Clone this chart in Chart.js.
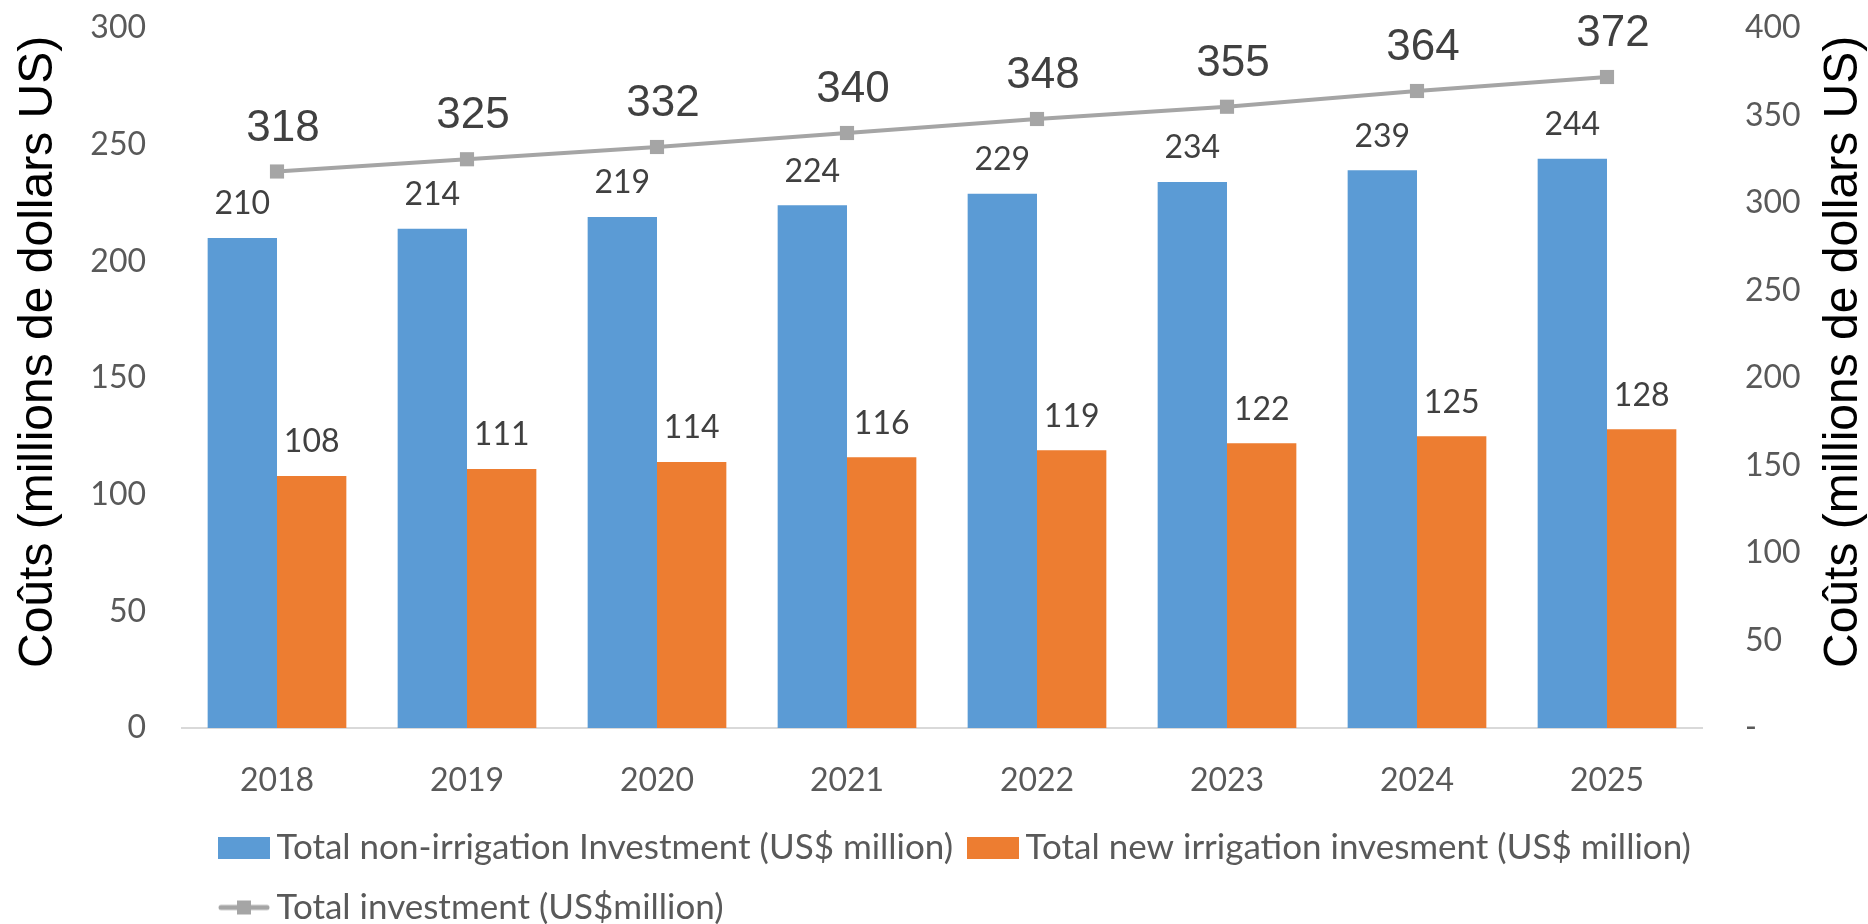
<!DOCTYPE html>
<html>
<head>
<meta charset="utf-8">
<script src="https://cdn.jsdelivr.net/npm/chart.js@4.4.1/dist/chart.umd.min.js"></script>
<style>
  html, body { margin: 0; padding: 0; background: #fff; }
</style>
</head>
<body>
<canvas id="chart" width="1868" height="924"></canvas>
<script>
// Chart data
const years = ['2018', '2019', '2020', '2021', '2022', '2023', '2024', '2025'];
const nonIrrigation = [210, 214, 219, 224, 229, 234, 239, 244];
const newIrrigation = [108, 111, 114, 116, 119, 122, 125, 128];
const totalInvestment = [318, 325, 332, 340, 348, 355, 364, 372];

const seriesNames = [
    'Total non-irrigation Investment (US$ million)',
    'Total new irrigation invesment (US$ million)',
    'Total investment (US$million)'
];
const yTitle = 'Coûts (millions de dollars US)';

const blue = '#5b9bd5';
const orange = '#ed7d31';
const gray = '#a5a5a5';
const tickColor = '#595959';
const labelColor = '#404040';

// Legend icons (box / line with square marker)
function makeIcon(draw) {
    const c = document.createElement('canvas');
    c.width = 52;
    c.height = 22;
    draw(c.getContext('2d'));
    return c;
}
const legendIcons = [
    makeIcon(g => { g.fillStyle = blue; g.fillRect(0, 0, 52, 22); }),
    makeIcon(g => { g.fillStyle = orange; g.fillRect(0, 0, 52, 22); }),
    makeIcon(g => {
        g.strokeStyle = gray;
        g.lineWidth = 5;
        g.lineCap = 'round';
        g.beginPath();
        g.moveTo(3, 11);
        g.lineTo(49, 11);
        g.stroke();
        g.fillStyle = gray;
        g.fillRect(19, 4, 14, 14);
    })
];

// Value labels above bars and line points
const valueLabels = {
    id: 'valueLabels',
    afterDatasetsDraw(chart) {
        const ctx = chart.ctx;
        chart.data.datasets.forEach((ds, i) => {
            const meta = chart.getDatasetMeta(i);
            const isLine = ds.type === 'line';
            ctx.save();
            ctx.font = isLine ? '44px "Liberation Sans"' : '32px Lato';
            ctx.fillStyle = labelColor;
            ctx.textAlign = 'center';
            ctx.textBaseline = 'middle';
            meta.data.forEach((el, j) => {
                const dx = isLine ? 6 : 0;
                const dy = isLine ? 43 : 34;
                ctx.fillText(String(ds.data[j]), el.x + dx, el.y - dy);
            });
            ctx.restore();
        });
    }
};

// Both axis titles read bottom-to-top
const axisTitles = {
    id: 'axisTitles',
    afterDraw(chart) {
        const ctx = chart.ctx;
        ctx.save();
        ctx.font = '48px "Liberation Sans"';
        ctx.fillStyle = '#000';
        ctx.textAlign = 'left';
        ctx.textBaseline = 'alphabetic';
        [52, 1857].forEach(x => {
            ctx.save();
            ctx.translate(x, 668);
            ctx.rotate(-Math.PI / 2);
            ctx.fillText(yTitle, 0, 0);
            ctx.restore();
        });
        ctx.restore();
    }
};

// Put the legend rows where the reference has them
const legendPlace = {
    id: 'legendPlace',
    afterLayout(chart) {
        chart.legend.left = 204;
        chart.legend.top = 805;
    }
};

const tickFont = { family: 'Lato', size: 32 };

// fixed axis widths; tick padding should not push the plot top down
function fixWidth(w) {
    return scale => {
        scale.width = w;
        scale.paddingTop = 0;
        scale.paddingBottom = 0;
    };
}

const ctx = document.getElementById('chart').getContext('2d');
new Chart(ctx, {
    type: 'bar',
    data: {
        labels: years,
        datasets: [
            {
                label: seriesNames[0],
                data: nonIrrigation,
                backgroundColor: blue,
                yAxisID: 'y',
                order: 1
            },
            {
                label: seriesNames[1],
                data: newIrrigation,
                backgroundColor: orange,
                yAxisID: 'y',
                order: 1
            },
            {
                type: 'line',
                label: seriesNames[2],
                data: totalInvestment,
                borderColor: gray,
                backgroundColor: gray,
                borderWidth: 4,
                pointStyle: 'rect',
                pointRadius: 10,
                pointBorderWidth: 0,
                pointBackgroundColor: gray,
                yAxisID: 'y1',
                order: 0
            }
        ]
    },
    options: {
        responsive: false,
        animation: false,
        layout: { padding: { top: 28 } },
        datasets: {
            bar: { barPercentage: 1, categoryPercentage: 0.73 }
        },
        scales: {
            x: {
                grid: { display: false, drawTicks: false },
                border: { color: '#d9d9d9', width: 2 },
                ticks: { color: tickColor, font: tickFont, padding: 33 },
                afterFit(scale) { scale.height = 66; }
            },
            y: {
                position: 'left',
                min: 0,
                max: 300,
                grid: { display: false, drawTicks: false },
                border: { display: false },
                ticks: { stepSize: 50, color: tickColor, font: tickFont, padding: 36 },
                afterFit: fixWidth(182)
            },
            y1: {
                position: 'right',
                min: 0,
                max: 400,
                grid: { display: false, drawTicks: false },
                border: { display: false },
                ticks: {
                    stepSize: 50,
                    color: tickColor,
                    font: tickFont,
                    padding: 43,
                    callback: v => (v === 0 ? '-' : v)
                },
                afterFit: fixWidth(166)
            }
        },
        plugins: {
            tooltip: { enabled: false },
            legend: {
                position: 'bottom',
                align: 'start',
                maxHeight: 130,
                labels: {
                    usePointStyle: true,
                    pointStyleWidth: 30,
                    padding: 25,
                    color: tickColor,
                    font: { family: 'Lato', size: 35 },
                    sort: (a, b) => a.datasetIndex - b.datasetIndex,
                    generateLabels(chart) {
                        const items = Chart.defaults.plugins.legend.labels.generateLabels(chart);
                        items.forEach(it => { it.pointStyle = legendIcons[it.datasetIndex]; });
                        return items;
                    }
                }
            }
        }
    },
    plugins: [valueLabels, axisTitles, legendPlace]
});
</script>
</body>
</html>
